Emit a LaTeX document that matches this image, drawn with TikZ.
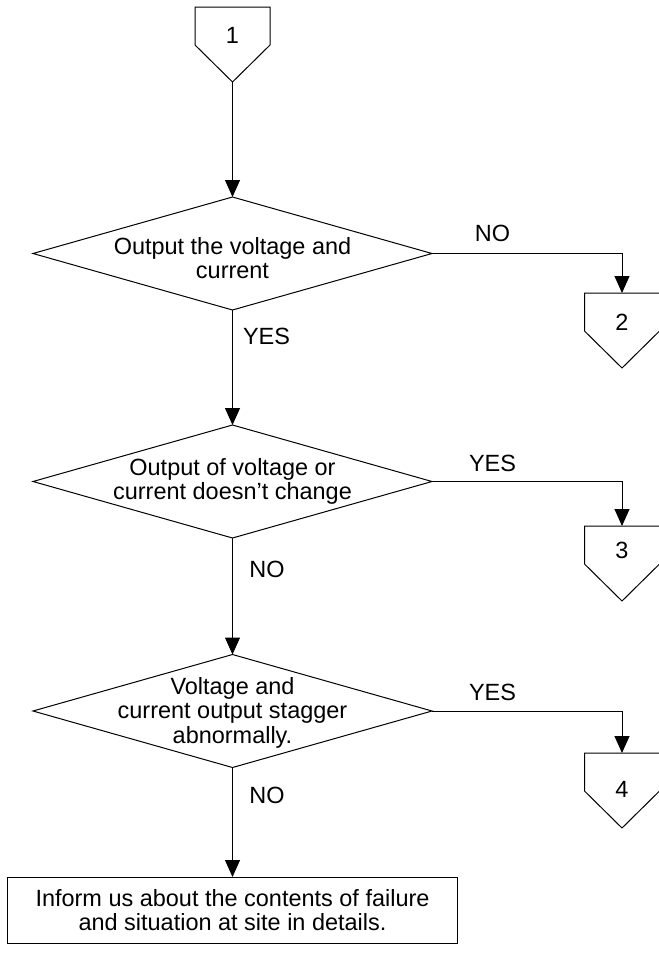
\documentclass[tikz,border=0pt]{standalone}
\usepackage{fontspec}
\setmainfont{Liberation Sans}
\usetikzlibrary{shapes.geometric,arrows.meta}
\newcommand\mkoffpage[5]{%
  \coordinate (#1) at (#2,#3);
  \draw[offpage] (#1) ++(-37.5,0) -- ++(75,0) -- ++(0,38) -- ++(-37.5,37) -- ++(-37.5,-37) -- cycle;
  \coordinate (#1-tip) at (#2,#3+75);
  \node[lbl] (#1-t) at (#2,#5) {#4};
}
\begin{document}
\begin{tikzpicture}[x=0.75pt,y=-0.75pt,
  every node/.style={font=\fontsize{17.6}{18.4}\selectfont, inner sep=0pt, outer sep=0pt},
  conn/.style={line width=0.75pt, draw=black},
  arr/.style={conn, -{Triangle[width=11.25pt,length=12.75pt]}},
  decision/.style={shape=diamond, draw, line width=0.75pt, minimum width=299.25pt, minimum height=84.75pt},
  outbox/.style={rectangle, draw, line width=0.75pt, minimum width=337.5pt, minimum height=49.5pt, align=center},
  offpage/.style={line width=0.75pt, draw=black, fill=white},
  lbl/.style={anchor=base},
  dtext/.style={align=center, anchor=center},
]
\useasboundingbox (0,0) rectangle (659,954);

% off-page connectors
\mkoffpage{p1}{232.5}{7}{1}{43}
\mkoffpage{p2}{622}{293}{2}{330}
\mkoffpage{p3}{622}{526}{3}{558}
\mkoffpage{p4}{622}{753}{4}{797}

% decisions
\node[decision] (d1) at (232.5,253.5) {};
\node[dtext] (d1t) at (232.5,258) {Output the voltage and\\current};
\node[decision] (d2) at (232.5,481.5) {};
\node[dtext] (d2t) at (232.5,481.5) {Output of voltage or\\current doesn’t change};
\node[decision] (d3) at (232.5,711) {};
\node[dtext] (d3t) at (232.5,712.5) {Voltage and\\current output stagger\\abnormally.};

% final box
\node[outbox] (box) at (232.5,910) {Inform us about the contents of failure\\and situation at site in details.};

% connectors
\draw[arr] (p1-tip) -- (d1.north);
\draw[arr] (d1.east) -| (p2);
\draw[arr] (d1.south) -- (d2.north);
\draw[arr] (d2.east) -| (p3);
\draw[arr] (d2.south) -- (d3.north);
\draw[arr] (d3.east) -| (p4);
\draw[arr] (d3.south) -- (box.north);

% labels
\node[lbl] (l1) at (492.5,241) {NO};
\node[lbl] (l2) at (266.5,344) {YES};
\node[lbl] (l3) at (492.5,471) {YES};
\node[lbl] (l4) at (267,577) {NO};
\node[lbl] (l5) at (492.5,700) {YES};
\node[lbl] (l6) at (267,803) {NO};
\end{tikzpicture}
\end{document}
